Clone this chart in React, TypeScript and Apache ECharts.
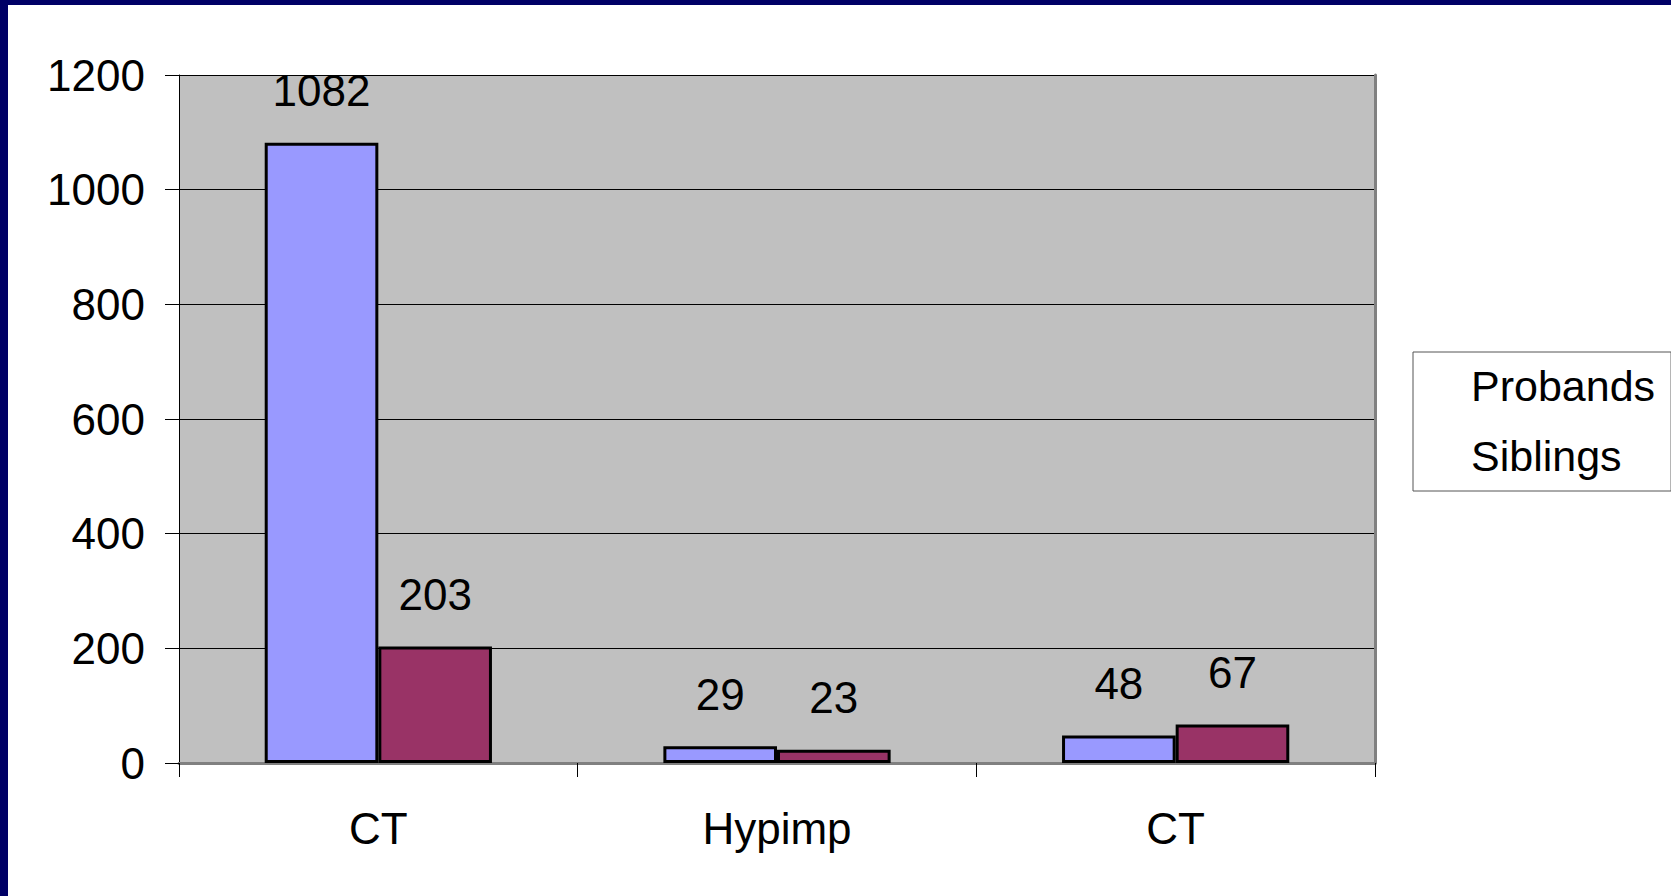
import { useEffect, useRef } from 'react';
import * as echarts from 'echarts';

const categories = ['CT', 'Hypimp', 'CT'];
const probands = [1082, 29, 48];
const siblings = [203, 23, 67];
const seriesNames = ['Probands', 'Siblings'];

const FONT = '"Liberation Sans", Arial, sans-serif';
const NAVY = '#000066';

export default function App() {
  const chartRef = useRef<HTMLDivElement>(null);

  useEffect(() => {
    if (!chartRef.current) return;
    const chart = echarts.init(chartRef.current, undefined, { renderer: 'svg' });

    const label = {
      show: true,
      position: 'top',
      distance: 30,
      fontSize: 44,
      fontFamily: FONT,
      color: '#000',
    };

    chart.setOption({
      animation: false,
      backgroundColor: '#fff',
      textStyle: { fontFamily: FONT },
      graphic: [
        { type: 'rect', left: 0, top: 0, shape: { width: 1671, height: 5 }, style: { fill: NAVY } },
        { type: 'rect', left: 0, top: 0, shape: { width: 8, height: 896 }, style: { fill: NAVY } },
      ],
      grid: {
        left: 179,
        top: 75,
        right: 296,
        bottom: 133,
        show: true,
        backgroundColor: '#c0c0c0',
        borderWidth: 0,
      },
      legend: {
        data: seriesNames,
        orient: 'vertical',
        left: 1413,
        top: 352,
        padding: [9, 16, 10, 15],
        itemGap: 20,
        itemWidth: 38,
        itemHeight: 20,
        borderColor: '#555',
        borderWidth: 1,
        itemStyle: { color: 'transparent', borderWidth: 0 },
        textStyle: { fontSize: 43, fontFamily: FONT, color: '#000', lineHeight: 50 },
      },
      xAxis: [
        {
          type: 'category',
          data: categories,
          axisLine: { lineStyle: { color: '#000', width: 1.5 } },
          axisTick: { show: true, length: 14, lineStyle: { color: '#000' } },
          axisLabel: { fontSize: 44, fontFamily: FONT, color: '#000', margin: 43 },
        },
        {
          type: 'category',
          data: categories,
          position: 'top',
          axisLine: { lineStyle: { color: '#808080', width: 3 } },
          axisTick: { show: false },
          axisLabel: { show: false },
        },
      ],
      yAxis: [
        {
          type: 'value',
          min: 0,
          max: 1200,
          interval: 200,
          axisLine: { show: true, lineStyle: { color: '#000', width: 1 } },
          axisTick: { show: true, length: 14, lineStyle: { color: '#000' } },
          axisLabel: {
            fontSize: 44,
            fontFamily: FONT,
            color: '#000',
            margin: 34,
            formatter: (v: number) => String(v),
          },
          splitLine: { lineStyle: { color: '#000', width: 1 } },
        },
        {
          type: 'value',
          min: 0,
          max: 1200,
          interval: 200,
          position: 'right',
          axisLine: { show: true, lineStyle: { color: '#808080', width: 3 } },
          axisTick: { show: false },
          axisLabel: { show: false },
          splitLine: { show: false },
        },
      ],
      series: [
        {
          name: seriesNames[0],
          type: 'bar',
          data: probands,
          barGap: '0%',
          barCategoryGap: '43%',
          itemStyle: { color: '#9999ff', borderColor: '#000', borderWidth: 3 },
          label,
        },
        {
          name: seriesNames[1],
          type: 'bar',
          data: siblings,
          barGap: '0%',
          barCategoryGap: '43%',
          itemStyle: { color: '#993366', borderColor: '#000', borderWidth: 3 },
          label,
        },
      ],
    });

    return () => {
      chart.dispose();
    };
  }, []);

  return (
    <div
      ref={chartRef}
      style={{ position: 'fixed', left: 0, top: 0, width: 1671, height: 896 }}
    />
  );
}
